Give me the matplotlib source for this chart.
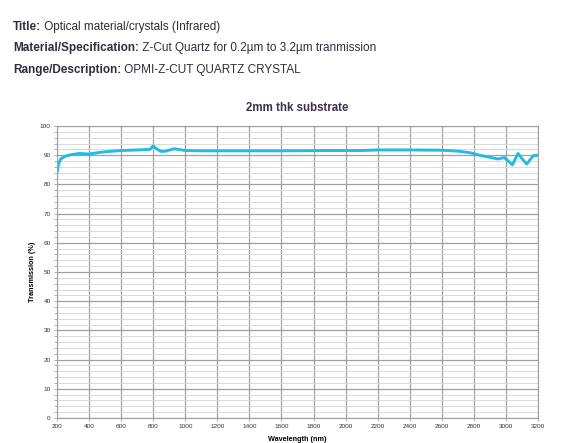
import numpy as np
import matplotlib.pyplot as plt
from matplotlib.ticker import MultipleLocator

plt.rcParams["font.family"] = ["Liberation Sans", "DejaVu Sans"]

wavelength = [200, 210, 225, 250, 280, 340, 400, 470, 530, 600, 700, 780, 800,
              820, 850, 880, 930, 1000, 1100, 1300, 1600, 1900, 2100, 2200, 2400,
              2600, 2700, 2780, 2850, 2900, 2950, 2990, 3040, 3075, 3105, 3130,
              3170, 3200]
transmission = [84.0, 87.2, 88.8, 89.6, 90.1, 90.6, 90.4, 91.0, 91.3, 91.6,
                91.8, 92.0, 93.2, 92.2, 91.3, 91.4, 92.2, 91.6, 91.5, 91.5,
                91.5, 91.6, 91.6, 91.8, 91.8, 91.7, 91.4, 90.8, 89.8, 89.3,
                88.7, 89.2, 86.7, 90.6, 88.5, 87.0, 89.8, 90.0]

header = [("Title:", " Optical material/crystals (Infrared)"),
          ("Material/Specification:", " Z-Cut Quartz for 0.2\u00b5m to 3.2\u00b5m tranmission"),
          ("Range/Description:", " OPMI-Z-CUT QUARTZ CRYSTAL")]

fig = plt.figure(figsize=(5.63, 4.43), dpi=100)
ax = fig.add_axes([57 / 563, 1 - 418 / 443, 481 / 563, 292 / 443])

ax.plot(wavelength, transmission, color="#1fbde6", lw=2.1)
ax.set_xlim(200, 3200)
ax.set_ylim(0, 100)
ax.xaxis.set_major_locator(MultipleLocator(200))
ax.yaxis.set_major_locator(MultipleLocator(10))
ax.yaxis.set_minor_locator(MultipleLocator(2))
ax.grid(which="major", color="#a0a0a0", lw=0.9)
ax.grid(which="minor", axis="y", color="#dadada", lw=0.7)
ax.set_axisbelow(True)
for s in ax.spines.values():
    s.set_color("#a0a0a0")
ax.tick_params(which="both", labelsize=4.6, colors="#a0a0a0", labelcolor="#333333",
               length=2.5, width=0.6, pad=2)
ax.tick_params(which="minor", length=2)
ax.set_title("2mm thk substrate", fontsize=8.3, fontweight="bold", color="#3b3050", pad=11)
ax.set_xlabel("Wavelength (nm)", fontsize=5.2, fontweight="bold", labelpad=5)
ax.set_ylabel("Transmission (%)", fontsize=5.2, fontweight="bold", labelpad=3)

ys = [27, 48, 70]
for (bold, rest), y in zip(header, ys):
    t = fig.text(13 / 563, 1 - y / 443, bold, fontsize=8.5, fontweight="bold",
                 color="#2e2e3e", va="center")
    fig.canvas.draw()
    bb = t.get_window_extent()
    fig.text(bb.x1 / fig.bbox.width, 1 - y / 443, rest, fontsize=8.5,
             color="#2e2e3e", va="center")

fig.savefig("out.png", dpi=100)
